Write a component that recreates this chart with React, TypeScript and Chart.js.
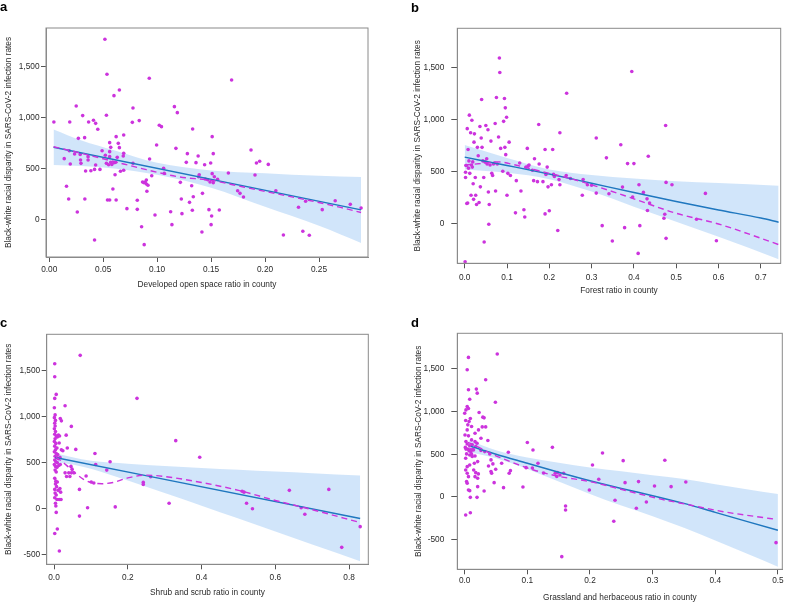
import React, { useEffect, useRef } from 'react';
import { Chart, registerables } from 'chart.js';

Chart.register(...registerables);

const FONT = '"Liberation Sans", Arial, Helvetica, sans-serif';
const POINT_COLOR = '#cc33dd';
const FIT_COLOR = '#1f77bf';
const BAND_COLOR = 'rgba(185, 215, 248, 0.66)';
const BOX_COLOR = '#8a8a8a';
const TEXT_COLOR = '#2a2a2a';
const FS = 8.3;

const yTitle = 'Black-white racial disparity in SARS-CoV-2 infection rates';

// ---------------- Panel a: developed open space ----------------
const aPoints: [number, number][] = [
  [0.0043,957],[0.0139,598],[0.016,327],[0.018,203],[0.0186,676],[0.019,957],[0.0195,546],[0.0235,644],[0.025,1114],[0.026,75],
  [0.027,797],[0.0287,640],[0.029,585],[0.0294,552],[0.031,1020],[0.0328,804],[0.033,203],[0.0337,477],[0.036,585],[0.036,618],
  [0.0365,957],[0.0386,480],[0.041,974],[0.042,493],[0.042,-199],[0.043,536],[0.043,944],[0.045,886],[0.047,493],[0.049,676],
  [0.0516,1768],[0.052,631],[0.053,1023],[0.053,552],[0.0535,1425],[0.054,193],[0.055,539],[0.056,193],[0.056,618],[0.056,667],
  [0.057,562],[0.056,755],[0.057,709],[0.058,542],[0.059,301],[0.060,1216],[0.060,559],[0.061,441],[0.0615,562],[0.062,814],
  [0.062,193],[0.063,611],[0.064,748],[0.065,1271],[0.065,706],[0.066,474],[0.0686,624],[0.069,830],[0.069,650],[0.069,484],
  [0.072,108],[0.077,954],[0.0776,1095],[0.0776,552],[0.0816,190],[0.0816,101],[0.0834,971],[0.0856,-69],[0.0865,369],[0.0878,363],
  [0.088,-245],[0.089,369],[0.090,389],[0.090,350],[0.0905,278],[0.0915,337],[0.0927,1386],[0.093,595],[0.095,431],[0.098,46],
  [0.0995,732],[0.102,925],[0.104,912],[0.106,503],[0.1066,454],[0.1125,78],[0.1137,-49],[0.116,1108],[0.1174,699],[0.1187,1049],
  [0.1215,366],[0.1224,203],[0.123,59],[0.127,562],[0.128,647],[0.130,170],[0.132,333],[0.1326,92],[0.1329,889],[0.1335,225],
  [0.136,559],[0.138,624],[0.1384,421],[0.139,441],[0.1415,-121],[0.142,258],[0.144,539],[0.1446,399],[0.1468,392],[0.148,98],
  [0.149,369],[0.1496,556],[0.15,-49],[0.1505,36],[0.151,814],[0.151,451],[0.152,647],[0.152,363],[0.153,421],[0.156,395],
  [0.1576,95],[0.166,457],[0.169,1369],[0.1746,284],[0.1768,258],[0.180,222],[0.187,683],[0.1907,438],[0.192,556],[0.195,572],
  [0.203,542],[0.210,284],[0.217,-150],[0.231,121],[0.235,-114],[0.2376,180],[0.241,-153],[0.253,98],[0.265,186],[0.279,150],[0.289,114]
];
const aBandX = [0.004, 0.03, 0.06, 0.10, 0.15, 0.20, 0.25, 0.289];
const aBandUpper = [884, 776, 680, 557, 483, 456, 430, 418];
const aBandLower = [535, 525, 502, 440, 313, 126, -60, -228];
const aFitX = [0.004, 0.289];
const aFitY = [710, 96];
const aLoessX = [0.004, 0.03, 0.06, 0.09, 0.12, 0.15, 0.18, 0.21, 0.24, 0.27, 0.289];
const aLoessY = [715, 650, 570, 490, 420, 385, 320, 255, 190, 120, 70];
const aXTicks = [0, 0.05, 0.10, 0.15, 0.20, 0.25];
const aYTicks = [0, 500, 1000, 1500];

// ---------------- Panel b: forest ----------------
const bPoints: [number, number][] = [
  [0.001,-370],[0.002,490],[0.003,555],[0.002,440],[0.004,555],[0.005,190],[0.007,195],[0.006,910],[0.008,710],[0.009,530],
  [0.01,600],[0.011,1040],[0.012,480],[0.014,870],[0.015,270],[0.016,560],[0.017,990],[0.018,540],[0.019,590],[0.02,380],
  [0.021,230],[0.022,780],[0.023,860],[0.025,440],[0.026,270],[0.028,180],[0.03,730],[0.032,650],[0.034,200],[0.036,930],
  [0.037,350],[0.039,820],[0.04,1190],[0.041,730],[0.043,600],[0.045,440],[0.046,-180],[0.048,590],[0.05,940],[0.052,620],
  [0.053,570],[0.055,900],[0.056,300],[0.057,-10],[0.058,180],[0.06,560],[0.062,790],[0.064,480],[0.066,460],[0.068,570],
  [0.07,580],[0.072,960],[0.073,310],[0.075,1210],[0.077,570],[0.08,830],[0.082,1590],[0.083,1450],[0.085,720],[0.09,500],
  [0.092,980],[0.094,1200],[0.095,730],[0.096,1110],[0.097,660],[0.099,1020],[0.1,270],[0.102,480],[0.105,780],[0.108,460],
  [0.12,100],[0.122,410],[0.13,580],[0.133,310],[0.14,130],[0.142,60],[0.145,540],[0.148,720],[0.15,550],[0.152,560],
  [0.16,510],[0.163,410],[0.165,620],[0.172,400],[0.175,950],[0.176,570],[0.185,400],[0.19,90],[0.19,710],[0.192,470],
  [0.195,540],[0.197,350],[0.2,120],[0.205,370],[0.208,710],[0.21,470],[0.212,450],[0.22,-70],[0.223,420],[0.225,870],
  [0.225,370],[0.24,460],[0.241,1250],[0.25,430],[0.278,270],[0.28,420],[0.29,370],[0.3,365],
  [0.311,820],[0.311,290],[0.325,-23],[0.335,629],[0.341,284],[0.349,-171],[0.369,755],[0.373,348],[0.378,-42],[0.385,574],
  [0.395,1460],[0.397,252],[0.4,574],[0.41,-290],[0.412,371],[0.414,-23],[0.4225,297],[0.432,123],[0.431,235],[0.434,645],
  [0.437,194],[0.476,-145],[0.476,393],[0.471,48],[0.473,87],[0.475,940],[0.49,371],[0.548,39],[0.569,287],[0.595,-168]
];
const bBandX = [0, 0.1, 0.2, 0.3, 0.4, 0.5, 0.6, 0.742];
const bBandUpper = [752, 627, 518, 465, 430, 405, 388, 362];
const bBandLower = [518, 485, 424, 305, 160, 15, -130, -345];
const bFitX = [0, 0.1, 0.2, 0.3, 0.4, 0.5, 0.6, 0.7, 0.742];
const bFitY = [636, 556, 474, 385, 295, 210, 128, 50, 10];
const bLoessX = [0, 0.04, 0.08, 0.12, 0.16, 0.2, 0.25, 0.3, 0.4, 0.5, 0.6, 0.7, 0.742];
const bLoessY = [560, 575, 590, 560, 520, 480, 430, 370, 235, 96, -7, -144, -205];
const bXTicks = [0, 0.1, 0.2, 0.3, 0.4, 0.5, 0.6, 0.7];
const bYTicks = [0, 500, 1000, 1500];

// ---------------- Panel c: shrub and scrub ----------------
const cPoints: [number, number][] = [
  [0.002,1576],[0.002,1435],[0.002,1199],[0.006,1243],[0.001,1098],[0.003,1020],[0.001,990],[0.004,960],[0.002,930],[0.003,900],
  [0.001,870],[0.004,840],[0.002,810],[0.006,790],[0.009,780],[0.012,800],[0.015,790],[0.003,760],[0.001,730],[0.005,710],
  [0.014,715],[0.002,680],[0.008,660],[0.004,640],[0.001,620],[0.006,600],[0.01,590],[0.003,570],[0.007,555],[0.012,545],
  [0.002,530],[0.016,560],[0.005,510],[0.009,500],[0.001,480],[0.004,460],[0.008,450],[0.013,470],[0.017,480],[0.003,420],
  [0.006,400],[0.002,330],[0.005,300],[0.009,290],[0.004,270],[0.007,240],[0.002,210],[0.011,200],[0.016,220],[0.018,180],
  [0.003,170],[0.006,150],[0.002,120],[0.008,100],[0.014,100],[0.019,100],[0.004,60],[0.005,30],[0.006,-40],[0.002,-270],
  [0.009,-220],[0.0145,-460],[0.017,980],[0.02,955],[0.024,630],[0.02,640],
  [0.03,1120],[0.033,800],[0.036,660],[0.047,895],[0.059,645],[0.071,1667],[0.03,390],[0.04,390],[0.047,390],[0.054,390],
  [0.034,350],[0.043,350],[0.046,460],[0.049,430],[0.069,210],[0.069,-80],[0.091,10],[0.087,355],[0.101,290],[0.108,280],
  [0.111,600],[0.113,480],[0.143,420],[0.152,510],[0.166,20],[0.225,1200],[0.242,286],[0.242,264],[0.262,348],[0.312,60],
  [0.33,740],[0.395,560],[0.51,190],[0.515,180],[0.522,60],[0.538,0],[0.638,200],[0.67,10],[0.68,-60],[0.745,210],[0.78,-420],[0.83,-195]
];
const cBandX = [0.003, 0.05, 0.1, 0.2, 0.3, 0.4, 0.5, 0.6, 0.7, 0.83];
const cBandUpper = [603, 560, 522, 490, 465, 443, 423, 404, 385, 360];
const cBandLower = [507, 480, 434, 306, 171, 33, -107, -248, -389, -570];
const cFitX = [0.003, 0.83];
const cFitY = [557, -106];
const cLoessX = [0.005, 0.02, 0.04, 0.06, 0.08, 0.1, 0.13, 0.16, 0.2, 0.25, 0.3, 0.4, 0.5, 0.6, 0.7, 0.83];
const cLoessY = [560, 520, 450, 380, 320, 285, 272, 285, 335, 365, 350, 285, 200, 90, -10, -150];
const cXTicks = [0, 0.2, 0.4, 0.6, 0.8];
const cYTicks = [-500, 0, 500, 1000, 1500];

// ---------------- Panel d: grassland and herbaceous ----------------
const dPoints: [number, number][] = [
  [0.006,1633],[0.052,1672],[0.004,1488],[0.0335,1371],[0.006,1254],[0.0186,1262],[0.02,1215],[0.008,1144],[0.049,1109],[0.004,1059],
  [0.006,1035],[0.002,1019],[0.023,988],[0.0,980],[0.029,934],[0.031,926],[0.0016,894],[0.007,883],[0.005,844],[0.011,824],
  [0.028,820],[0.0335,820],[0.009,918],[0.022,785],[0.004,785],[0.0165,746],[0.0005,726],[0.006,715],[0.026,687],[0.037,660],
  [0.011,668],[0.0165,648],[0.0197,629],[0.002,650],[0.004,620],[0.008,600],[0.012,610],[0.001,580],[0.005,560],[0.009,551],
  [0.014,551],[0.0176,590],[0.026,543],[0.032,531],[0.003,504],[0.008,492],[0.012,473],[0.0165,480],[0.04,504],[0.0016,453],
  [0.042,434],[0.045,387],[0.0207,414],[0.0154,395],[0.008,375],[0.004,355],[0.038,363],[0.0495,324],[0.0697,523],[0.059,395],
  [0.0144,316],[0.0176,285],[0.0218,270],[0.0016,316],[0.004,277],[0.006,238],[0.042,297],[0.043,277],[0.071,277],[0.0165,238],
  [0.0207,219],[0.003,180],[0.004,160],[0.047,168],[0.062,109],[0.008,74],[0.006,82],[0.0207,121],[0.031,70],[0.009,-4],
  [0.0197,-4],[0.0016,-211],[0.009,-184],[0.01,530],[0.013,560],[0.007,540],[0.002,560],[0.011,500],
  [0.1,638],[0.109,550],[0.14,581],[0.117,394],[0.098,343],[0.093,117],[0.073,308],[0.204,374],[0.22,515],[0.253,425],
  [0.256,168],[0.2775,180],[0.303,129],[0.3195,429],[0.3295,121],[0.353,175],[0.199,82],[0.214,207],[0.24,-39],[0.238,-284],
  [0.274,-132],[0.29,-58],[0.161,-105],[0.161,-152],[0.155,-698],[0.497,-534],[0.1445,277],[0.147,240],[0.152,257],[0.158,277],
  [0.108,340],[0.126,281],[0.148,285]
];
const dBandX = [0.007, 0.05, 0.1, 0.15, 0.2, 0.25, 0.3, 0.35, 0.4, 0.45, 0.5];
const dBandUpper = [665, 548, 463, 400, 345, 300, 255, 210, 150, 90, 35];
const dBandLower = [525, 452, 327, 180, 35, -100, -225, -360, -510, -660, -815];
const dFitX = [0.01, 0.05, 0.1, 0.15, 0.2, 0.25, 0.3, 0.35, 0.4, 0.45, 0.5];
const dFitY = [592, 500, 395, 290, 190, 100, 15, -75, -180, -285, -390];
const dLoessX = [0.005, 0.02, 0.041, 0.073, 0.11, 0.147, 0.2, 0.254, 0.307, 0.36, 0.413, 0.466, 0.497];
const dLoessY = [640, 590, 511, 413, 316, 246, 179, 82, -15, -94, -172, -230, -261];
const dXTicks = [0, 0.1, 0.2, 0.3, 0.4, 0.5];
const dYTicks = [-500, 0, 500, 1000, 1500];

type PanelCfg = {
  letter: string;
  left: number; top: number; w: number; h: number;
  area: [number, number, number, number];
  yTitleX: number; xTitleY: number; letterX: number; letterY: number;
  xLabelPad: number; yLabelPad: number; yTickLen: number;
  xMin: number; xMax: number; yMin: number; yMax: number;
  xTicks: number[]; yTicks: number[]; xDigits: number; xTitle: string;
  points: [number, number][];
  bandX: number[]; bandUpper: number[]; bandLower: number[];
  fitX: number[]; fitY: number[]; loessX: number[]; loessY: number[];
};

const panels: PanelCfg[] = [
  {
    letter: 'a', left: 0, top: 0, w: 394, h: 300, area: [46, 28, 368, 257],
    yTitleX: 9, xTitleY: 285, letterX: 0, letterY: 11, xLabelPad: 3, yLabelPad: 1.5, yTickLen: 5,
    xMin: -0.003, xMax: 0.2954, yMin: -366, yMax: 1879, xTicks: aXTicks, yTicks: aYTicks, xDigits: 2,
    xTitle: 'Developed open space ratio in county', points: aPoints,
    bandX: aBandX, bandUpper: aBandUpper, bandLower: aBandLower, fitX: aFitX, fitY: aFitY, loessX: aLoessX, loessY: aLoessY,
  },
  {
    letter: 'b', left: 394, top: 0, w: 393, h: 300, area: [63.3, 28.3, 386.7, 263.3],
    yTitleX: 24, xTitleY: 290.7, letterX: 17, letterY: 11.7, xLabelPad: 4, yLabelPad: 7, yTickLen: 6,
    xMin: -0.0175, xMax: 0.747, yMin: -385, yMax: 1875, xTicks: bXTicks, yTicks: bYTicks, xDigits: 1,
    xTitle: 'Forest ratio in county', points: bPoints,
    bandX: bBandX, bandUpper: bBandUpper, bandLower: bBandLower, fitX: bFitX, fitY: bFitY, loessX: bLoessX, loessY: bLoessY,
  },
  {
    letter: 'c', left: 0, top: 300, w: 394, h: 303, area: [46.7, 34.3, 368.3, 264.3],
    yTitleX: 8.3, xTitleY: 292.7, letterX: 0, letterY: 27, xLabelPad: 3, yLabelPad: 1.5, yTickLen: 5,
    xMin: -0.0198, xMax: 0.852, yMin: -604, yMax: 1896, xTicks: cXTicks, yTicks: cYTicks, xDigits: 1,
    xTitle: 'Shrub and scrub ratio in county', points: cPoints,
    bandX: cBandX, bandUpper: cBandUpper, bandLower: cBandLower, fitX: cFitX, fitY: cFitY, loessX: cLoessX, loessY: cLoessY,
  },
  {
    letter: 'd', left: 394, top: 300, w: 393, h: 303, area: [63.3, 33.3, 388.3, 269.3],
    yTitleX: 24.7, xTitleY: 297.7, letterX: 17, letterY: 27, xLabelPad: 1, yLabelPad: 7, yTickLen: 6,
    xMin: -0.0118, xMax: 0.507, yMin: -846, yMax: 1915, xTicks: dXTicks, yTicks: dYTicks, xDigits: 1,
    xTitle: 'Grassland and herbaceous ratio in county', points: dPoints,
    bandX: dBandX, bandUpper: dBandUpper, bandLower: dBandLower, fitX: dFitX, fitY: dFitY, loessX: dLoessX, loessY: dLoessY,
  },
];

const zip = (xs: number[], ys: number[]) => xs.map((x, i) => ({ x, y: ys[i] }));

function Panel({ cfg }: { cfg: PanelCfg }) {
  const ref = useRef<HTMLCanvasElement | null>(null);

  useEffect(() => {
    const canvas = ref.current;
    if (!canvas) return;
    const [al, at, ar, ab] = cfg.area;
    const lh = FS * 1.2;

    const boxPlugin = {
      id: 'boxAndLetter',
      afterDraw(chart: any) {
        const { ctx, chartArea: a } = chart;
        ctx.save();
        ctx.strokeStyle = BOX_COLOR;
        ctx.lineWidth = 1;
        ctx.strokeRect(a.left, a.top, a.right - a.left, a.bottom - a.top);
        ctx.fillStyle = '#000';
        ctx.font = `bold 13px ${FONT}`;
        ctx.textBaseline = 'alphabetic';
        ctx.textAlign = 'left';
        ctx.fillText(cfg.letter, cfg.letterX, cfg.letterY);
        ctx.restore();
      },
    };

    const chart = new Chart(canvas, {
      type: 'scatter',
      data: {
        datasets: [
          {
            type: 'line',
            data: zip(cfg.bandX, cfg.bandUpper),
            borderColor: 'rgba(0,0,0,0)',
            borderWidth: 0,
            pointRadius: 0,
            backgroundColor: BAND_COLOR,
            fill: '+1',
            tension: 0.35,
            cubicInterpolationMode: 'monotone',
            order: 10,
          } as any,
          {
            type: 'line',
            data: zip(cfg.bandX, cfg.bandLower),
            borderColor: 'rgba(0,0,0,0)',
            borderWidth: 0,
            pointRadius: 0,
            fill: false,
            tension: 0.35,
            cubicInterpolationMode: 'monotone',
            order: 11,
          } as any,
          {
            type: 'scatter',
            data: cfg.points.map(([x, y]) => ({ x, y })),
            pointRadius: 1.8,
            pointBackgroundColor: POINT_COLOR,
            pointBorderWidth: 0,
            pointBorderColor: POINT_COLOR,
            order: 5,
          } as any,
          {
            type: 'line',
            data: zip(cfg.fitX, cfg.fitY),
            borderColor: FIT_COLOR,
            borderWidth: 1.5,
            pointRadius: 0,
            fill: false,
            tension: 0.3,
            cubicInterpolationMode: 'monotone',
            order: 1,
          } as any,
          {
            type: 'line',
            data: zip(cfg.loessX, cfg.loessY),
            borderColor: POINT_COLOR,
            borderWidth: 1.4,
            borderDash: [6, 4],
            pointRadius: 0,
            fill: false,
            tension: 0.4,
            cubicInterpolationMode: 'monotone',
            order: 0,
          } as any,
        ],
      },
      options: {
        animation: false,
        responsive: false,
        maintainAspectRatio: false,
        events: [],
        layout: { padding: { left: 0, top: at, right: cfg.w - ar, bottom: 0 } },
        plugins: { legend: { display: false }, tooltip: { enabled: false } },
        scales: {
          x: {
            type: 'linear',
            min: cfg.xMin,
            max: cfg.xMax,
            afterBuildTicks: (s: any) => { s.ticks = cfg.xTicks.map((v) => ({ value: v })); },
            afterFit: (s: any) => { s.height = cfg.h - ab; },
            grid: { display: true, drawOnChartArea: false, drawTicks: true, tickLength: 5, color: '#555', tickColor: '#555' },
            border: { display: true, color: BOX_COLOR, width: 1 },
            ticks: {
              padding: cfg.xLabelPad,
              color: TEXT_COLOR,
              font: { family: FONT, size: FS },
              maxRotation: 0,
              autoSkip: false,
              callback: (v: any) => Number(v).toFixed(cfg.xDigits),
            },
            title: {
              display: true,
              text: cfg.xTitle,
              color: TEXT_COLOR,
              font: { family: FONT, size: FS },
              padding: { top: 0, bottom: cfg.h - cfg.xTitleY - lh / 2 },
            },
          },
          y: {
            type: 'linear',
            min: cfg.yMin,
            max: cfg.yMax,
            afterBuildTicks: (s: any) => { s.ticks = cfg.yTicks.map((v) => ({ value: v })); },
            afterFit: (s: any) => { s.width = al; },
            grid: { display: true, drawOnChartArea: false, drawTicks: true, tickLength: cfg.yTickLen, color: '#555', tickColor: '#555' },
            border: { display: true, color: BOX_COLOR, width: 1 },
            ticks: {
              padding: cfg.yLabelPad,
              color: TEXT_COLOR,
              font: { family: FONT, size: FS },
              autoSkip: false,
              callback: (v: any) => Number(v).toLocaleString('en-US'),
            },
            title: {
              display: true,
              text: yTitle,
              color: TEXT_COLOR,
              font: { family: FONT, size: FS },
              padding: { top: cfg.yTitleX - lh / 2, bottom: 0 },
            },
          },
        },
      } as any,
      plugins: [boxPlugin],
    });
    return () => chart.destroy();
  }, [cfg]);

  return (
    <canvas
      ref={ref}
      width={cfg.w}
      height={cfg.h}
      style={{ position: 'absolute', left: cfg.left, top: cfg.top, width: cfg.w, height: cfg.h }}
    />
  );
}

export default function App() {
  return (
    <div style={{ position: 'fixed', left: 0, top: 0, width: 787, height: 603, background: '#ffffff', overflow: 'hidden' }}>
      {panels.map((p) => (
        <Panel key={p.letter} cfg={p} />
      ))}
    </div>
  );
}
